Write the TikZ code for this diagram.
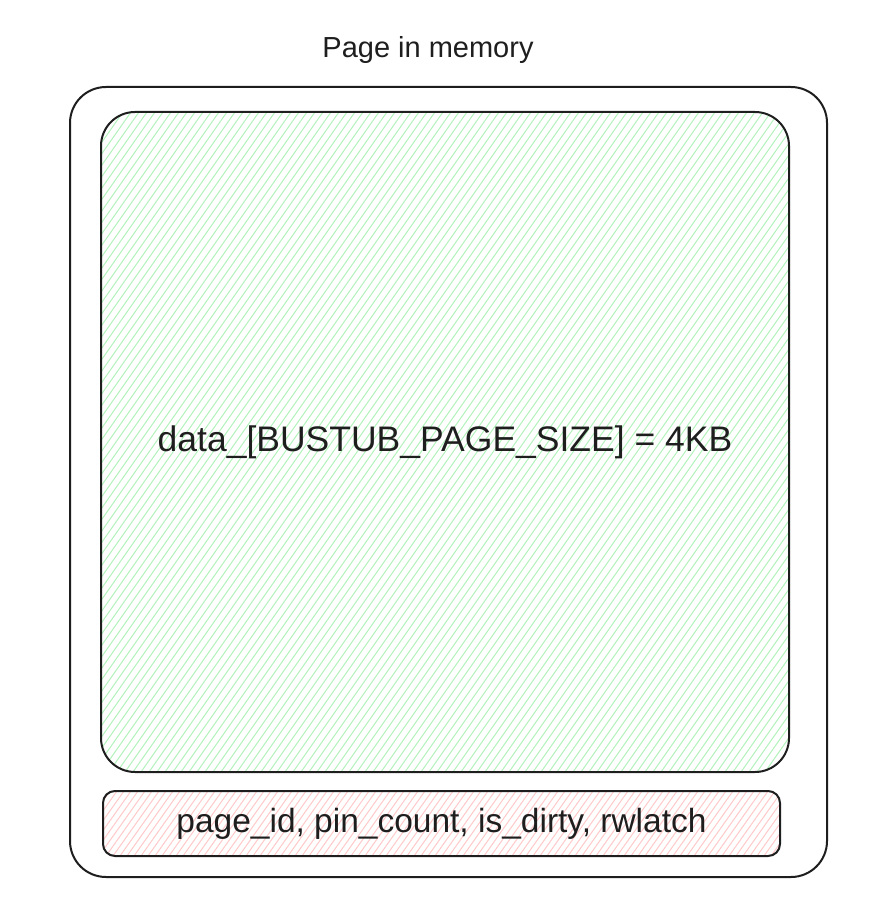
\documentclass[tikz,border=0pt]{standalone}
\usepackage{fontspec}
\setmainfont{Liberation Sans}
\definecolor{ink}{HTML}{1E1E1E}
\definecolor{hgreen}{HTML}{B2F2BB}
\definecolor{hred}{HTML}{FFC9C9}
\begin{document}
\begin{tikzpicture}[x=1pt,y=-1pt,
  box/.style={draw=ink, line width=2pt, inner sep=0pt, text=ink},
  greenhatch/.style={path picture={
    \foreach \i in {-480,-472,...,700}
      \draw[hgreen, line width=1pt] ([xshift=\i pt]path picture bounding box.south west) -- ++(462pt,660pt);}},
  redhatch/.style={path picture={
    \foreach \i in {-60,-53,...,690}
      \draw[hred, line width=1pt] ([xshift=\i pt]path picture bounding box.south west) -- ++(46pt,65pt);}}
]
\useasboundingbox (0,0) rectangle (893,917);
\node[text=ink, font=\fontsize{29}{34}\selectfont] (title) at (428,50) {Page in memory};
\node[box, rounded corners=36pt, minimum width=757pt, minimum height=790pt] (outer) at (448.5,482) {};
\node[box, greenhatch, rounded corners=34pt, minimum width=688pt, minimum height=660pt,
      font=\fontsize{35.5}{40}\selectfont] (data) at (445,442) {data\_[BUSTUB\_PAGE\_SIZE] = 4KB};
\node[box, redhatch, rounded corners=12pt, minimum width=677pt, minimum height=65pt,
      font=\fontsize{33.5}{38}\selectfont] (meta) at (441.5,823.5) {\raisebox{-3pt}{page\_id, pin\_count, is\_dirty, rwlatch}};
\end{tikzpicture}
\end{document}
